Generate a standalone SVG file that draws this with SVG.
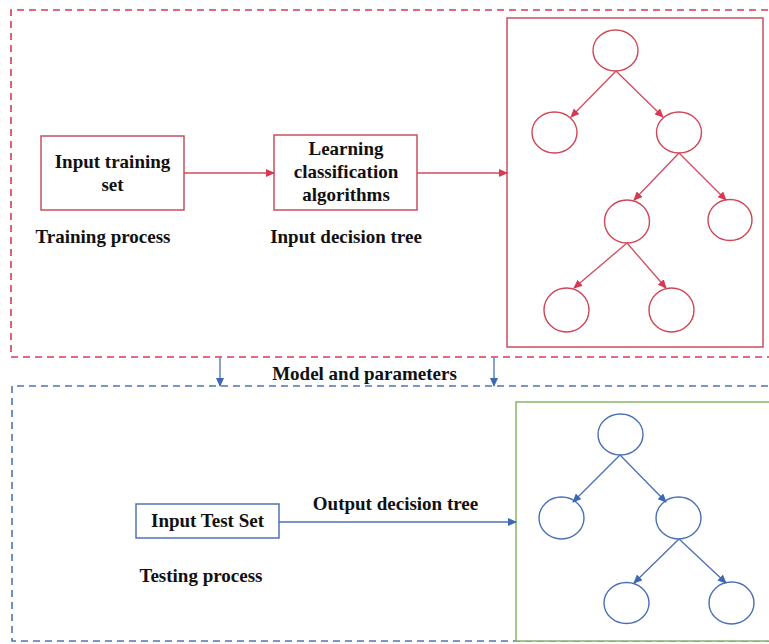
<svg xmlns="http://www.w3.org/2000/svg" width="769" height="644" viewBox="0 0 769 644">
<style>
text{font-family:"Liberation Serif","Times New Roman",serif;font-weight:bold;font-size:19px;fill:#111;text-anchor:middle}
.rdash{fill:none;stroke:#d63a52;stroke-width:1.6;stroke-dasharray:7 5}
.bdash{fill:none;stroke:#4f74b8;stroke-width:1.6;stroke-dasharray:7 5}
.rbox{fill:#fff;stroke:#c94f5e;stroke-width:1.5}
.bbox{fill:#fff;stroke:#4f74b8;stroke-width:1.5}
.gbox{fill:#fff;stroke:#86b56a;stroke-width:1.5}
.rc{fill:#fff;stroke:#cf4657;stroke-width:1.4}
.bc{fill:#fff;stroke:#4a6fb5;stroke-width:1.4}
.rl{fill:none;stroke:#d24a5b;stroke-width:1.3}
.bl{fill:none;stroke:#4a6fb5;stroke-width:1.3}
</style>
<defs>
<marker id="ar" markerWidth="9" markerHeight="8" refX="8" refY="4" orient="auto" markerUnits="userSpaceOnUse"><path d="M0,0 L9,4 L0,8 z" fill="#d63a52"/></marker>
<marker id="ab" markerWidth="9" markerHeight="8" refX="8" refY="4" orient="auto" markerUnits="userSpaceOnUse"><path d="M0,0 L9,4 L0,8 z" fill="#3f68b3"/></marker>
</defs>
<rect width="769" height="644" fill="#fff"/>
<g id="training-region">
<path class="rdash" d="M780,10 L11,10 L11,357 L780,357"/>
</g>
<g id="testing-region">
<path class="bdash" d="M780,386 L12,386 L12,641 L780,641"/>
</g>
<g id="tree-box-red"><rect class="rbox" x="507" y="18" width="256" height="329"/></g>
<g id="tree-box-green"><rect class="gbox" x="516" y="402" width="262" height="239"/></g>
<g id="input-training-set">
<rect class="rbox" x="41" y="136" width="143" height="74"/>
<text x="112.5" y="168">Input training</text>
<text x="112.5" y="191">set</text>
</g>
<g id="training-process-label"><text x="103" y="243">Training process</text></g>
<g id="learning-algorithms">
<rect class="rbox" x="274" y="135" width="143" height="75"/>
<text x="346" y="155">Learning</text>
<text x="346" y="178">classification</text>
<text x="346" y="201">algorithms</text>
</g>
<g id="input-decision-tree-label"><text x="346" y="243">Input decision tree</text></g>
<g id="model-parameters-label"><text x="364.5" y="380">Model and parameters</text></g>
<g id="input-test-set">
<rect class="bbox" x="136" y="504" width="143" height="34"/>
<text x="207.5" y="527">Input Test Set</text>
</g>
<g id="testing-process-label"><text x="201" y="582">Testing process</text></g>
<g id="output-decision-tree-label"><text x="395.5" y="510">Output decision tree</text></g>
<g id="red-tree">
<ellipse class="rc" cx="615.5" cy="50.5" rx="22.5" ry="20.5"/>
<ellipse class="rc" cx="554.5" cy="132.5" rx="22.5" ry="20.5"/>
<ellipse class="rc" cx="679" cy="132.5" rx="22.5" ry="20.5"/>
<ellipse class="rc" cx="627" cy="221.5" rx="22.5" ry="21.5"/>
<ellipse class="rc" cx="730" cy="220" rx="22" ry="20.5"/>
<ellipse class="rc" cx="566.5" cy="310" rx="22.5" ry="22"/>
<ellipse class="rc" cx="671.5" cy="310" rx="22.5" ry="22"/>
</g>
<g id="blue-tree">
<ellipse class="bc" cx="620.5" cy="434.5" rx="22.5" ry="20.5"/>
<ellipse class="bc" cx="561.5" cy="518" rx="22.5" ry="21"/>
<ellipse class="bc" cx="678.5" cy="518" rx="22.5" ry="21"/>
<ellipse class="bc" cx="626.5" cy="603" rx="22.5" ry="20.5"/>
<ellipse class="bc" cx="731.5" cy="603" rx="22.5" ry="21"/>
</g>
<g id="connectors">
<line class="rl" x1="184" y1="173" x2="274" y2="173" marker-end="url(#ar)"/>
<line class="rl" x1="417" y1="173" x2="507" y2="173" marker-end="url(#ar)"/>
<line class="rl" x1="616" y1="71" x2="571" y2="117" marker-end="url(#ar)"/>
<line class="rl" x1="616" y1="71" x2="663" y2="117" marker-end="url(#ar)"/>
<line class="rl" x1="679" y1="153" x2="634" y2="200" marker-end="url(#ar)"/>
<line class="rl" x1="679" y1="153" x2="726" y2="200" marker-end="url(#ar)"/>
<line class="rl" x1="627" y1="243" x2="574" y2="288" marker-end="url(#ar)"/>
<line class="rl" x1="627" y1="243" x2="666" y2="288" marker-end="url(#ar)"/>
<line class="bl" x1="220" y1="358" x2="220" y2="386" marker-end="url(#ab)"/>
<line class="bl" x1="494" y1="358" x2="494" y2="386" marker-end="url(#ab)"/>
<line class="bl" x1="279" y1="522" x2="516" y2="522" marker-end="url(#ab)"/>
<line class="bl" x1="620" y1="455" x2="573" y2="502" marker-end="url(#ab)"/>
<line class="bl" x1="620" y1="455" x2="666" y2="502" marker-end="url(#ab)"/>
<line class="bl" x1="679" y1="539" x2="634" y2="583" marker-end="url(#ab)"/>
<line class="bl" x1="679" y1="539" x2="726" y2="583" marker-end="url(#ab)"/>
</g>
</svg>
